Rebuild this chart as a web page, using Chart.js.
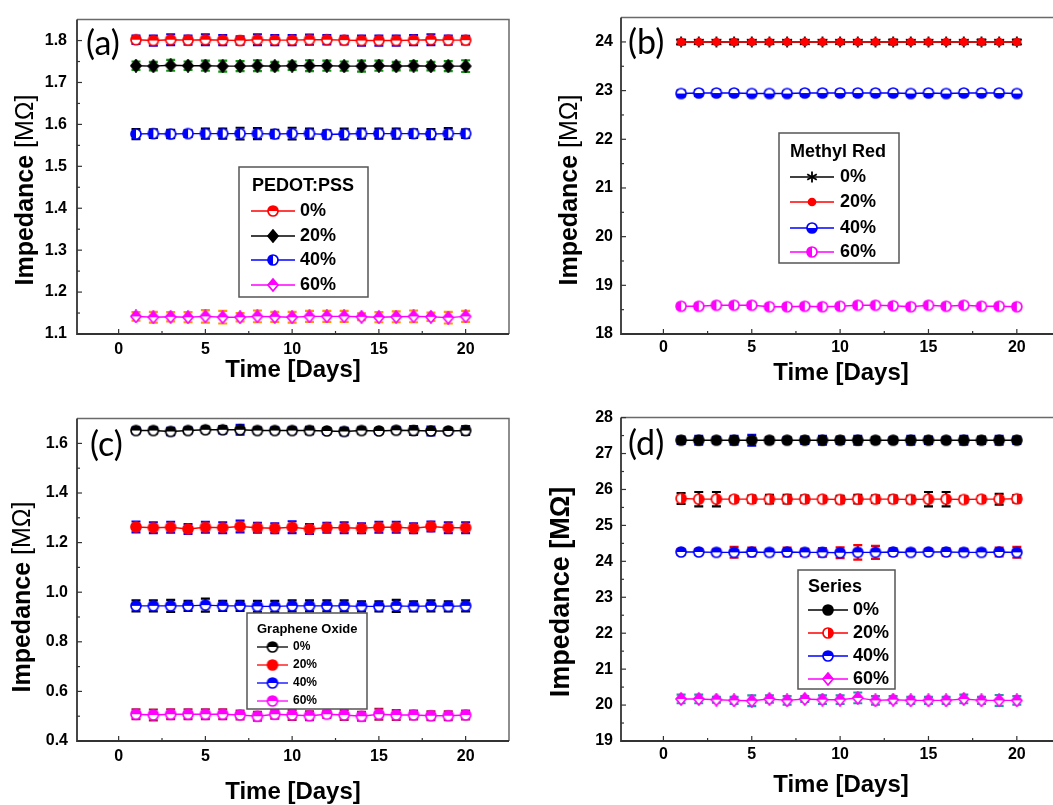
<!DOCTYPE html>
<html lang="en">
<head>
<meta charset="UTF-8" />
<title>Impedance vs time</title>
<script src="https://cdn.jsdelivr.net/npm/chart.js"></script>
<style>
  html, body { margin: 0; padding: 0; background: #fff; overflow: hidden; }
  #page { position: relative; width: 1053px; height: 805px; overflow: hidden; }
  #page canvas { position: absolute; }
</style>
</head>
<body>
<div id="page">
  <canvas id="chartA" width="530" height="400" style="left:0;top:0"></canvas>
  <canvas id="chartB" width="545" height="400" style="left:530px;top:0"></canvas>
  <canvas id="chartC" width="530" height="405" style="left:0;top:400px"></canvas>
  <canvas id="chartD" width="545" height="405" style="left:530px;top:400px"></canvas>
</div>

<script>
// shared x axis
const days = [1, 2, 3, 4, 5, 6, 7, 8, 9, 10, 11, 12, 13, 14, 15, 16, 17, 18, 19, 20];
const xTicks = [0, 5, 10, 15, 20];
const xMin = -2.4, xMax = 22.5;
const seriesLabels = ["0%", "20%", "40%", "60%"];

// (a) PEDOT:PSS
const pedotTicks = [1.1, 1.2, 1.3, 1.4, 1.5, 1.6, 1.7, 1.8];
const pedot0 = [1.802, 1.800, 1.802, 1.801, 1.802, 1.801, 1.800, 1.802, 1.801, 1.801, 1.802, 1.802, 1.801, 1.800, 1.800, 1.800, 1.801, 1.802, 1.801, 1.801];
const pedot0Err = [0.010, 0.012, 0.013, 0.011, 0.013, 0.012, 0.010, 0.013, 0.012, 0.012, 0.012, 0.011, 0.010, 0.012, 0.012, 0.012, 0.012, 0.013, 0.011, 0.010];
const pedot20 = [1.740, 1.739, 1.741, 1.740, 1.740, 1.739, 1.739, 1.740, 1.739, 1.740, 1.740, 1.740, 1.739, 1.739, 1.740, 1.739, 1.740, 1.739, 1.739, 1.739];
const pedot20Err = [0.010, 0.010, 0.013, 0.010, 0.012, 0.013, 0.012, 0.013, 0.010, 0.010, 0.013, 0.012, 0.011, 0.013, 0.012, 0.010, 0.011, 0.010, 0.012, 0.014];
const pedot40 = [1.577, 1.578, 1.577, 1.578, 1.578, 1.578, 1.578, 1.578, 1.577, 1.578, 1.578, 1.576, 1.577, 1.578, 1.578, 1.578, 1.578, 1.577, 1.578, 1.578];
const pedot40Err = [0.012, 0.010, 0.010, 0.008, 0.012, 0.012, 0.014, 0.013, 0.010, 0.014, 0.012, 0.010, 0.013, 0.012, 0.012, 0.012, 0.010, 0.012, 0.013, 0.010];
const pedot60 = [1.142, 1.140, 1.141, 1.140, 1.142, 1.140, 1.140, 1.142, 1.141, 1.140, 1.142, 1.142, 1.142, 1.141, 1.140, 1.141, 1.142, 1.141, 1.139, 1.142];
const pedot60Err = [0.010, 0.013, 0.011, 0.012, 0.015, 0.015, 0.010, 0.014, 0.012, 0.013, 0.013, 0.013, 0.013, 0.008, 0.012, 0.013, 0.014, 0.010, 0.014, 0.013];

// (b) Methyl Red
const methylTicks = [18, 19, 20, 21, 22, 23, 24];
const methyl0 = [24.00, 24.00, 24.00, 24.00, 24.00, 24.00, 24.00, 24.00, 24.00, 24.00, 24.00, 24.00, 24.00, 24.00, 24.00, 24.00, 24.00, 24.00, 24.00, 24.00];
const methyl0Err = [0.05, 0.04, 0.03, 0.05, 0.03, 0.03, 0.03, 0.03, 0.03, 0.03, 0.03, 0.03, 0.05, 0.03, 0.03, 0.03, 0.03, 0.05, 0.03, 0.05];
const methyl20 = [24.00, 24.00, 24.00, 24.00, 24.00, 24.00, 24.00, 24.00, 24.00, 24.00, 24.00, 24.00, 24.00, 24.00, 24.00, 24.00, 24.00, 24.00, 24.00, 24.00];
const methyl20Err = [0.03, 0.03, 0.03, 0.03, 0.03, 0.03, 0.03, 0.03, 0.03, 0.03, 0.03, 0.03, 0.03, 0.03, 0.03, 0.03, 0.03, 0.03, 0.03, 0.03];
const methyl40 = [22.94, 22.95, 22.95, 22.95, 22.94, 22.94, 22.94, 22.95, 22.95, 22.95, 22.95, 22.95, 22.95, 22.94, 22.95, 22.94, 22.95, 22.95, 22.95, 22.94];
const methyl40Err = [0.06, 0.06, 0.06, 0.06, 0.05, 0.05, 0.05, 0.06, 0.06, 0.06, 0.06, 0.06, 0.06, 0.05, 0.06, 0.05, 0.06, 0.06, 0.06, 0.05];
const methyl60 = [18.57, 18.57, 18.59, 18.59, 18.59, 18.56, 18.56, 18.57, 18.56, 18.57, 18.59, 18.59, 18.58, 18.56, 18.59, 18.57, 18.59, 18.57, 18.57, 18.56];
const methyl60Err = [0.05, 0.05, 0.05, 0.05, 0.05, 0.05, 0.05, 0.05, 0.05, 0.05, 0.05, 0.05, 0.05, 0.05, 0.05, 0.05, 0.05, 0.05, 0.05, 0.05];

// (c) Graphene Oxide
const grapheneTicks = [0.4, 0.6, 0.8, 1.0, 1.2, 1.4, 1.6];
const graphene0 = [1.652, 1.652, 1.648, 1.652, 1.655, 1.655, 1.655, 1.652, 1.652, 1.652, 1.652, 1.650, 1.648, 1.652, 1.650, 1.653, 1.652, 1.650, 1.650, 1.652];
const graphene0Err = [0.012, 0.012, 0.015, 0.012, 0.012, 0.015, 0.020, 0.012, 0.012, 0.012, 0.015, 0.012, 0.015, 0.012, 0.012, 0.012, 0.018, 0.018, 0.012, 0.018];
const graphene20 = [1.263, 1.260, 1.262, 1.255, 1.262, 1.260, 1.265, 1.260, 1.258, 1.262, 1.255, 1.260, 1.260, 1.258, 1.262, 1.262, 1.258, 1.265, 1.260, 1.260];
const graphene20Err = [0.022, 0.022, 0.022, 0.020, 0.022, 0.022, 0.024, 0.020, 0.020, 0.024, 0.020, 0.020, 0.022, 0.020, 0.022, 0.022, 0.020, 0.020, 0.022, 0.022];
const graphene40 = [0.945, 0.945, 0.945, 0.945, 0.948, 0.945, 0.945, 0.943, 0.943, 0.945, 0.945, 0.945, 0.945, 0.943, 0.943, 0.945, 0.943, 0.945, 0.943, 0.945];
const graphene40Err = [0.022, 0.022, 0.024, 0.020, 0.026, 0.020, 0.020, 0.022, 0.022, 0.022, 0.022, 0.022, 0.022, 0.020, 0.020, 0.024, 0.020, 0.022, 0.020, 0.022];
const graphene60 = [0.508, 0.505, 0.508, 0.508, 0.508, 0.508, 0.505, 0.500, 0.508, 0.505, 0.502, 0.508, 0.505, 0.500, 0.508, 0.505, 0.505, 0.502, 0.502, 0.505];
const graphene60Err = [0.020, 0.022, 0.020, 0.020, 0.020, 0.020, 0.018, 0.018, 0.018, 0.020, 0.018, 0.015, 0.020, 0.018, 0.022, 0.020, 0.018, 0.018, 0.018, 0.018];

// (d) Series
const seriesTicks = [19, 20, 21, 22, 23, 24, 25, 26, 27, 28];
const series0 = [27.37, 27.37, 27.37, 27.37, 27.37, 27.37, 27.37, 27.37, 27.37, 27.37, 27.37, 27.37, 27.37, 27.37, 27.37, 27.37, 27.37, 27.37, 27.37, 27.37];
const series0Err = [0.10, 0.12, 0.08, 0.12, 0.15, 0.08, 0.08, 0.10, 0.12, 0.10, 0.12, 0.08, 0.08, 0.12, 0.10, 0.08, 0.12, 0.10, 0.12, 0.10];
const series20 = [25.75, 25.73, 25.73, 25.73, 25.73, 25.73, 25.73, 25.73, 25.73, 25.72, 25.73, 25.73, 25.73, 25.72, 25.73, 25.73, 25.72, 25.73, 25.73, 25.74];
const series20Err = [0.15, 0.20, 0.20, 0.08, 0.10, 0.12, 0.12, 0.10, 0.08, 0.10, 0.12, 0.10, 0.10, 0.10, 0.20, 0.20, 0.08, 0.08, 0.15, 0.10];
const series40 = [24.26, 24.26, 24.25, 24.25, 24.26, 24.25, 24.26, 24.25, 24.25, 24.24, 24.25, 24.25, 24.26, 24.25, 24.26, 24.26, 24.25, 24.25, 24.26, 24.25];
const series40Err = [0.08, 0.08, 0.08, 0.15, 0.12, 0.08, 0.12, 0.10, 0.12, 0.15, 0.20, 0.18, 0.10, 0.08, 0.08, 0.10, 0.10, 0.08, 0.12, 0.15];
const series60 = [20.17, 20.17, 20.15, 20.13, 20.12, 20.17, 20.13, 20.17, 20.15, 20.15, 20.20, 20.13, 20.15, 20.13, 20.13, 20.13, 20.17, 20.13, 20.13, 20.13];
const series60Err = [0.12, 0.12, 0.08, 0.10, 0.15, 0.10, 0.12, 0.08, 0.12, 0.12, 0.15, 0.12, 0.10, 0.10, 0.10, 0.10, 0.12, 0.10, 0.15, 0.12];

const FONT = "'Liberation Sans', Arial, sans-serif";
Chart.defaults.font.family = FONT;
Chart.defaults.color = "#000";

// small offscreen canvases used as point styles (half filled symbols like Origin)
function marker(shape, color, fill, r = 5) {
  const s = 14, m = s / 2;
  const c = document.createElement("canvas");
  c.width = c.height = s;
  const g = c.getContext("2d");
  if (shape === "star") {
    g.strokeStyle = color;
    g.lineWidth = 1.8;
    for (const a of [90, 30, 150]) {
      const dx = Math.cos(a * Math.PI / 180) * 5.5, dy = Math.sin(a * Math.PI / 180) * 5.5;
      g.beginPath(); g.moveTo(m - dx, m - dy); g.lineTo(m + dx, m + dy); g.stroke();
    }
    return c;
  }
  const path = () => {
    g.beginPath();
    if (shape === "diamond") {
      g.moveTo(m, m - r - 1); g.lineTo(m + r, m); g.lineTo(m, m + r + 1); g.lineTo(m - r, m); g.closePath();
    } else {
      g.arc(m, m, r, 0, Math.PI * 2);
    }
  };
  path(); g.fillStyle = "#fff"; g.fill();
  if (fill !== "none") {
    const rects = { full: [0, 0, s, s], top: [0, 0, s, m], bottom: [0, m, s, m], left: [0, 0, m, s], right: [m, 0, m, s] };
    g.save(); path(); g.clip();
    g.fillStyle = color;
    g.fillRect(...rects[fill]);
    g.restore();
  }
  path(); g.lineWidth = 1.7; g.strokeStyle = color; g.stroke();
  return c;
}

function series(label, color, values, errors, errColor, point, order) {
  return {
    label: label,
    data: days.map((d, i) => ({ x: d, y: values[i] })),
    borderColor: color,
    backgroundColor: color,
    borderWidth: 1.4,
    pointStyle: point,
    pointRadius: 5,
    pointHoverRadius: 5,
    order: order || 0,
    errors: errors,
    errColor: errColor,
  };
}

// error bars, frame with inward ticks, panel letter, y title and inset legend
const panelDecor = {
  id: "panelDecor",
  beforeDatasetsDraw(chart) {
    const ctx = chart.ctx, ys = chart.scales.y;
    ctx.save();
    ctx.lineWidth = 2.2;
    chart.data.datasets.forEach((ds, i) => {
      const meta = chart.getDatasetMeta(i);
      ctx.strokeStyle = ds.errColor;
      meta.data.forEach((pt, j) => {
        const v = ds.data[j].y, e = ds.errors[j];
        const y1 = ys.getPixelForValue(v + e), y2 = ys.getPixelForValue(v - e);
        ctx.beginPath();
        ctx.moveTo(pt.x, y1); ctx.lineTo(pt.x, y2);
        ctx.moveTo(pt.x - 4.5, y1); ctx.lineTo(pt.x + 4.5, y1);
        ctx.moveTo(pt.x - 4.5, y2); ctx.lineTo(pt.x + 4.5, y2);
        ctx.stroke();
      });
    });
    ctx.restore();
  },
  afterDraw(chart, args, opts) {
    const ctx = chart.ctx;
    const { left, right, top, bottom } = chart.chartArea;
    const xs = chart.scales.x, ys = chart.scales.y;
    ctx.save();

    // frame
    ctx.strokeStyle = "#6a6a6a";
    ctx.lineWidth = 1.5;
    ctx.beginPath();
    ctx.moveTo(left, top); ctx.lineTo(right, top); ctx.lineTo(right, bottom);
    ctx.stroke();
    ctx.strokeStyle = "#333";
    ctx.lineWidth = 1.8;
    ctx.beginPath();
    ctx.moveTo(left, top); ctx.lineTo(left, bottom); ctx.lineTo(right, bottom);
    ctx.stroke();

    // inward major + minor ticks
    ctx.lineWidth = 1.2;
    const mids = t => t.slice(1).map((v, i) => (v + t[i]) / 2);
    xTicks.forEach(v => { const p = xs.getPixelForValue(v); ctx.beginPath(); ctx.moveTo(p, bottom); ctx.lineTo(p, bottom - 5); ctx.stroke(); });
    mids(xTicks).forEach(v => { const p = xs.getPixelForValue(v); ctx.beginPath(); ctx.moveTo(p, bottom); ctx.lineTo(p, bottom - 3); ctx.stroke(); });
    opts.yTicks.forEach(v => { const p = ys.getPixelForValue(v); ctx.beginPath(); ctx.moveTo(left, p); ctx.lineTo(left + 5, p); ctx.stroke(); });
    mids(opts.yTicks).forEach(v => { const p = ys.getPixelForValue(v); ctx.beginPath(); ctx.moveTo(left, p); ctx.lineTo(left + 3, p); ctx.stroke(); });

    // panel letter
    ctx.fillStyle = "#000";
    ctx.textBaseline = "middle";
    ctx.textAlign = "left";
    ctx.font = "34px Lato, 'Open Sans', sans-serif";
    ctx.fillText(opts.tag.text, opts.tag.x, opts.tag.y);

    // y axis title, rotated
    const T = opts.yTitle;
    ctx.save();
    ctx.translate(T.x, T.y);
    ctx.rotate(-Math.PI / 2);
    let total = 0;
    T.parts.forEach(p => { ctx.font = `${p.weight} ${T.size}px ${FONT}`; total += ctx.measureText(p.text).width; });
    let x0 = -total / 2;
    T.parts.forEach(p => {
      ctx.font = `${p.weight} ${T.size}px ${FONT}`;
      ctx.fillText(p.text, x0, 0);
      x0 += ctx.measureText(p.text).width;
    });
    ctx.restore();

    // inset legend
    const L = opts.legend;
    const [bx1, by1, bx2, by2] = L.box;
    ctx.fillStyle = "#fff";
    ctx.fillRect(bx1, by1, bx2 - bx1, by2 - by1);
    ctx.strokeStyle = "#555";
    ctx.lineWidth = 1.5;
    ctx.strokeRect(bx1, by1, bx2 - bx1, by2 - by1);
    ctx.fillStyle = "#000";
    ctx.font = `bold ${L.titleSize}px ${FONT}`;
    ctx.fillText(L.title, L.titleX, L.titleY);
    ctx.font = `bold ${L.size}px ${FONT}`;
    chart.data.datasets.forEach((ds, i) => {
      const y = L.rows[i], mx = (L.line[0] + L.line[1]) / 2;
      ctx.strokeStyle = ds.borderColor;
      ctx.lineWidth = 1.3;
      ctx.beginPath(); ctx.moveTo(L.line[0], y); ctx.lineTo(L.line[1], y); ctx.stroke();
      const img = ds.pointStyle;
      ctx.drawImage(img, mx - img.width / 2, y - img.height / 2);
      ctx.fillStyle = "#000";
      ctx.fillText(ds.label, L.textX, y);
    });
    ctx.restore();
  },
};

function makePanel(id, datasets, cfg) {
  return new Chart(document.getElementById(id), {
    type: "line",
    data: { datasets: datasets },
    options: {
      responsive: false,
      animation: false,
      events: [],
      layout: { padding: cfg.padding },
      scales: {
        x: {
          type: "linear",
          min: xMin,
          max: xMax,
          afterBuildTicks: s => { s.ticks = xTicks.map(v => ({ value: v })); },
          afterFit: s => { s.height = cfg.xHeight; },
          grid: { display: false, drawTicks: false },
          border: { display: false },
          ticks: { padding: cfg.xTickPad, maxRotation: 0, font: { size: 16, weight: "bold" } },
          title: {
            display: true,
            text: "Time [Days]",
            font: { size: 24, weight: "bold", lineHeight: 1 },
            padding: { top: 0, bottom: cfg.xTitlePad },
          },
        },
        y: {
          type: "linear",
          min: cfg.yMin,
          max: cfg.yMax,
          afterBuildTicks: s => { s.ticks = cfg.yTicks.map(v => ({ value: v })); },
          afterFit: s => { s.width = cfg.yWidth; },
          grid: { display: false, drawTicks: false },
          border: { display: false },
          ticks: { padding: cfg.yTickPad, font: { size: 16, weight: "bold" }, callback: v => v.toFixed(cfg.dec) },
        },
      },
      plugins: {
        legend: { display: false },
        tooltip: { enabled: false },
        panelDecor: {
          yTicks: cfg.yTicks,
          tag: cfg.tag,
          yTitle: cfg.yTitle,
          legend: cfg.legend,
        },
      },
    },
    plugins: [panelDecor],
  });
}

const impParts = [{ text: "Impedance ", weight: "bold" }, { text: "[M\u03A9]", weight: "normal" }];

makePanel("chartA", [
  series(seriesLabels[0], "#ff0000", pedot0, pedot0Err, "#0000ff", marker("circle", "#ff0000", "top")),
  series(seriesLabels[1], "#000000", pedot20, pedot20Err, "#119911", marker("diamond", "#000000", "full")),
  series(seriesLabels[2], "#0000ff", pedot40, pedot40Err, "#000000", marker("circle", "#0000ff", "left")),
  series(seriesLabels[3], "#ff00ff", pedot60, pedot60Err, "#ff9900", marker("diamond", "#ff00ff", "top")),
], {
  padding: { left: 0, top: 11, right: 21, bottom: 0 },
  xHeight: 66, xTickPad: 6, xTitlePad: 18,
  yWidth: 77, yTickPad: 10, yMin: 1.1, yMax: 1.85, yTicks: pedotTicks, dec: 1,
  tag: { text: "(a)", x: 86, y: 44 },
  yTitle: { x: 26, y: 190, size: 25, parts: impParts },
  legend: { box: [239, 167, 368, 297], title: "PEDOT:PSS", titleSize: 18, titleX: 252, titleY: 186,
            size: 18, line: [251, 295], textX: 300, rows: [211, 236, 260, 285] },
});

// red line drawn over the black one; its small dot leaves the star arms visible
makePanel("chartB", [
  series(seriesLabels[0], "#000000", methyl0, methyl0Err, "#000000", marker("star", "#000000"), 1),
  series(seriesLabels[1], "#ff0000", methyl20, methyl20Err, "#ff0000", marker("circle", "#ff0000", "full", 3.5), 0),
  series(seriesLabels[2], "#0000ff", methyl40, methyl40Err, "#000000", marker("circle", "#0000ff", "bottom"), 2),
  series(seriesLabels[3], "#ff00ff", methyl60, methyl60Err, "#119911", marker("circle", "#ff00ff", "left"), 3),
], {
  padding: { left: 0, top: 11, right: 14, bottom: 0 },
  xHeight: 66, xTickPad: 4, xTitlePad: 15,
  yWidth: 91, yTickPad: 8, yMin: 18, yMax: 24.5, yTicks: methylTicks, dec: 0,
  tag: { text: "(b)", x: 98, y: 43 },
  yTitle: { x: 40, y: 190, size: 25, parts: impParts },
  legend: { box: [249, 133, 369, 263], title: "Methyl Red", titleSize: 18, titleX: 260, titleY: 152,
            size: 18, line: [260, 304], textX: 310, rows: [177, 202, 228, 252] },
});

makePanel("chartC", [
  series(seriesLabels[0], "#000000", graphene0, graphene0Err, "#0000ff", marker("circle", "#000000", "top")),
  series(seriesLabels[1], "#ff0000", graphene20, graphene20Err, "#0000ff", marker("circle", "#ff0000", "full")),
  series(seriesLabels[2], "#0000ff", graphene40, graphene40Err, "#000000", marker("circle", "#0000ff", "top")),
  series(seriesLabels[3], "#ff00ff", graphene60, graphene60Err, "#a31a2a", marker("circle", "#ff00ff", "top")),
], {
  padding: { left: 0, top: 18, right: 21, bottom: 0 },
  xHeight: 64, xTickPad: 6, xTitlePad: 1,
  yWidth: 77, yTickPad: 9, yMin: 0.4, yMax: 1.7, yTicks: grapheneTicks, dec: 1,
  tag: { text: "(c)", x: 90, y: 45 },
  yTitle: { x: 23, y: 197, size: 25, parts: impParts },
  legend: { box: [247, 213, 367, 309], title: "Graphene Oxide", titleSize: 13, titleX: 257, titleY: 229,
            size: 12, line: [257, 288], textX: 293, rows: [247, 265, 283, 301] },
});

makePanel("chartD", [
  series(seriesLabels[0], "#000000", series0, series0Err, "#0000ff", marker("circle", "#000000", "full")),
  series(seriesLabels[1], "#ff0000", series20, series20Err, "#000000", marker("circle", "#ff0000", "right")),
  series(seriesLabels[2], "#0000ff", series40, series40Err, "#ff0000", marker("circle", "#0000ff", "top")),
  series(seriesLabels[3], "#ff00ff", series60, series60Err, "#17a0a0", marker("diamond", "#ff00ff", "top")),
], {
  padding: { left: 0, top: 17, right: 14, bottom: 0 },
  xHeight: 64, xTickPad: 4, xTitlePad: 8,
  yWidth: 91, yTickPad: 8, yMin: 19, yMax: 28, yTicks: seriesTicks, dec: 0,
  tag: { text: "(d)", x: 98, y: 44 },
  yTitle: { x: 32, y: 192, size: 27, parts: [{ text: "Impedance [M\u03A9]", weight: "bold" }] },
  legend: { box: [268, 170, 365, 289], title: "Series", titleSize: 18, titleX: 278, titleY: 187,
            size: 18, line: [278, 318], textX: 323, rows: [210, 233, 256, 279] },
});
</script>
</body>
</html>
